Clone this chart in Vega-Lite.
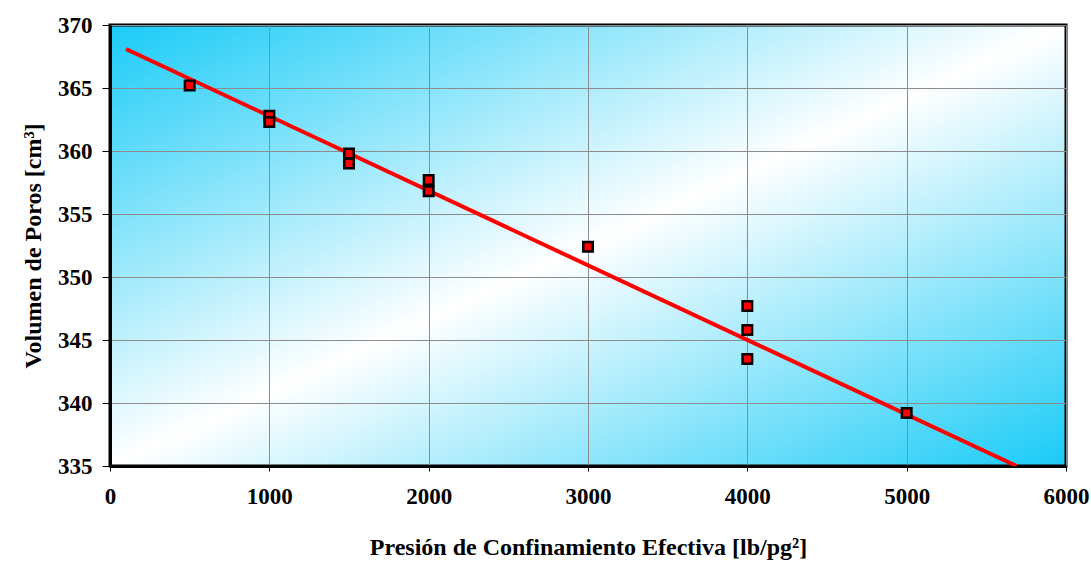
{
  "$schema": "https://vega.github.io/schema/vega-lite/v6.json",
  "autosize": "none",
  "width": 956,
  "height": 441,
  "padding": {"left": 110, "top": 25, "right": 25, "bottom": 100},
  "background": "white",
  "datasets": {
    "puntos": [
      {"presion": 500, "volumen": 365.2},
      {"presion": 1000, "volumen": 362.8},
      {"presion": 1000, "volumen": 362.3},
      {"presion": 1500, "volumen": 359.8},
      {"presion": 1500, "volumen": 359.0},
      {"presion": 2000, "volumen": 357.7},
      {"presion": 2000, "volumen": 356.8},
      {"presion": 3000, "volumen": 352.4},
      {"presion": 4000, "volumen": 347.7},
      {"presion": 4000, "volumen": 345.8},
      {"presion": 4000, "volumen": 343.5},
      {"presion": 5000, "volumen": 339.2}
    ],
    "ajuste": [
      {"presion": 100, "volumen": 368.1},
      {"presion": 5690, "volumen": 335.0}
    ]
  },
  "config": {
    "font": "Liberation Serif",
    "view": {
      "stroke": "black",
      "strokeWidth": 3,
      "fill": {
        "gradient": "linear",
        "x1": 0, "y1": 0, "x2": 1, "y2": 1,
        "stops": [
          {"offset": 0, "color": "#1acbf7"},
          {"offset": 0.5, "color": "#ffffff"},
          {"offset": 1, "color": "#1acbf7"}
        ]
      }
    },
    "axis": {
      "labelFont": "Liberation Serif",
      "labelFontWeight": "bold",
      "labelFontSize": 23,
      "labelColor": "black",
      "titleFont": "Liberation Serif",
      "titleFontWeight": "bold",
      "titleFontSize": 24,
      "titleColor": "black",
      "gridColor": "#8c8c8c",
      "gridWidth": 1,
      "gridOpacity": 1,
      "tickColor": "black",
      "tickWidth": 1,
      "domainColor": "black",
      "domainWidth": 3
    }
  },
  "layer": [
    {
      "data": {"name": "ajuste"},
      "mark": {"type": "line", "color": "#ff0000", "strokeWidth": 4, "clip": true},
      "encoding": {
        "x": {
          "field": "presion", "type": "quantitative",
          "scale": {"domain": [0, 6000], "nice": false},
          "axis": {
            "title": "Presión de Confinamiento Efectiva [lb/pg²]",
            "values": [0, 1000, 2000, 3000, 4000, 5000, 6000],
            "format": "d",
            "labelFont": "Liberation Serif",
            "labelFontSize": 23,
            "labelFontWeight": "bold",
            "titleFont": "Liberation Serif",
            "titleFontSize": 24,
            "tickSize": 5,
            "labelPadding": 14,
            "titlePadding": 27,
            "labelFlush": false
          }
        },
        "y": {
          "field": "volumen", "type": "quantitative",
          "scale": {"domain": [335, 370], "nice": false, "zero": false},
          "axis": {
            "title": "Volumen de Poros [cm³]",
            "values": [335, 340, 345, 350, 355, 360, 365, 370],
            "format": "d",
            "labelFont": "Liberation Serif",
            "labelFontSize": 23,
            "labelFontWeight": "bold",
            "titleFont": "Liberation Serif",
            "titleFontSize": 24,
            "tickSize": 8,
            "labelPadding": 10,
            "titlePadding": 12,
            "labelFlush": false
          }
        }
      }
    },
    {
      "data": {"name": "puntos"},
      "mark": {"type": "point", "shape": "square", "filled": true, "color": "#ff0000", "stroke": "black", "strokeWidth": 2.5, "size": 90, "opacity": 1},
      "encoding": {
        "x": {"field": "presion", "type": "quantitative"},
        "y": {"field": "volumen", "type": "quantitative"}
      }
    }
  ]
}
